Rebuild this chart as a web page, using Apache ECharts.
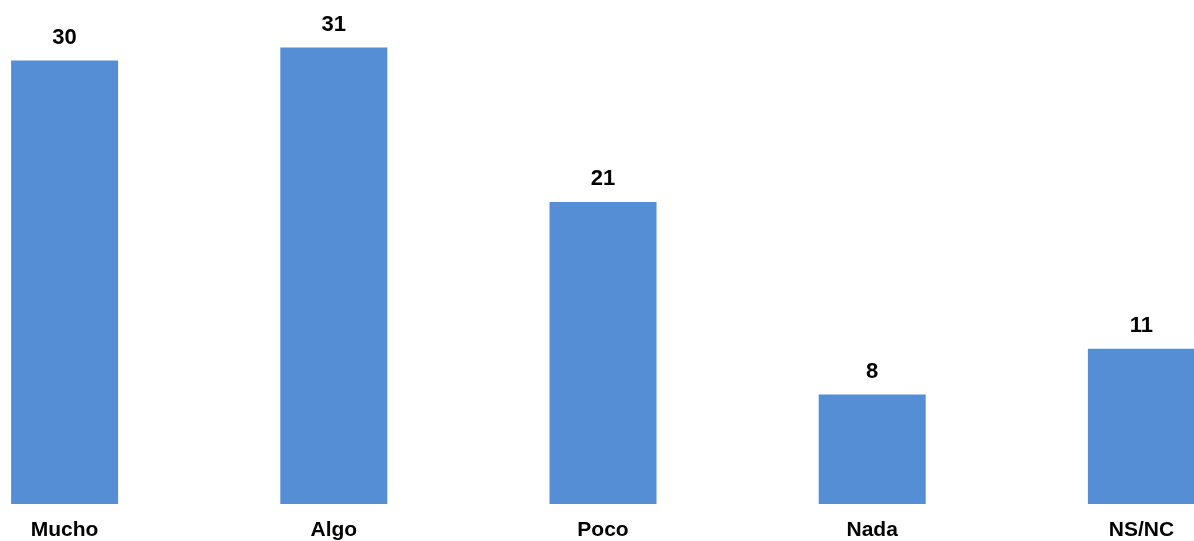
<!DOCTYPE html>
<html><head><meta charset="utf-8">
<script src="https://cdn.jsdelivr.net/npm/echarts@6/dist/echarts.min.js"></script>
<style>html,body{margin:0;padding:0;background:#fff;overflow:hidden;width:1194px;height:541px}#c{position:absolute;left:-70px;top:0;width:1346px;height:541px}</style>
</head><body><div id="c"></div>
<script>
const categories = ['Mucho', 'Algo', 'Poco', 'Nada', 'NS/NC'];
const values = [30.4, 31.3, 20.7, 7.5, 10.65];

const chart = echarts.init(document.getElementById('c'), null, {renderer: 'canvas'});
chart.setOption({
  animation: false,
  grid: {left: 0, right: 0, top: 4, bottom: 36.5, containLabel: false},
  xAxis: {
    type: 'category', data: categories,
    axisLine: {show: false}, axisTick: {show: false},
    axisLabel: {color: '#000', fontWeight: 'bold', fontSize: 21, fontFamily: 'Liberation Sans, Arial, sans-serif', margin: 16}
  },
  yAxis: {type: 'value', min: 0, max: 34.28, show: false, splitLine: {show: false}},
  series: [{
    type: 'bar', data: values, barWidth: 107,
    itemStyle: {color: '#558ED5'},
    label: {show: true, position: 'top', distance: 12, color: '#000', fontWeight: 'bold', fontSize: 22,
      fontFamily: '"Liberation Sans Narrow", "Arial Narrow", sans-serif',
      formatter: p => Math.round(p.value)}
  }]
});
</script></body></html>
